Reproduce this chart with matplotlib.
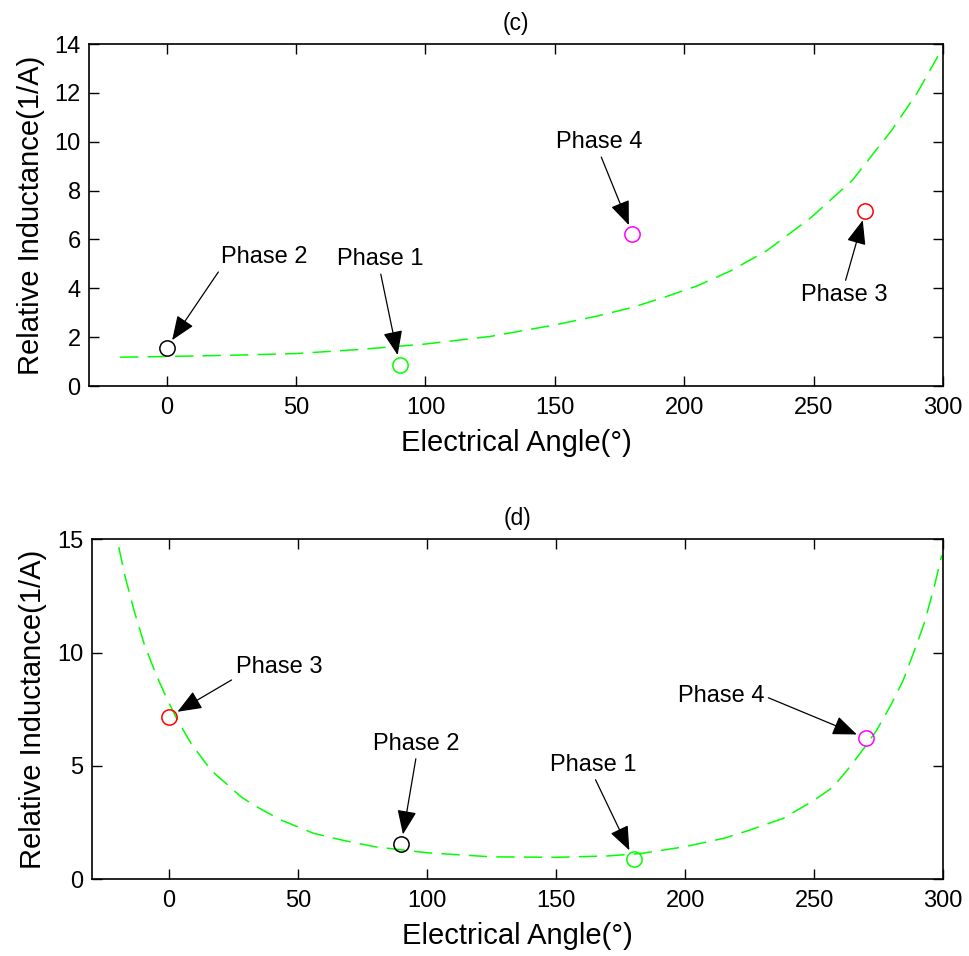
import numpy as np
import matplotlib
matplotlib.use("Agg")
import matplotlib.pyplot as plt

plt.rcParams['font.family'] = ['Liberation Sans', 'DejaVu Sans']

# phase markers: same inductance values, shifted angle between (c) and (d)
phases = ['Phase 1', 'Phase 2', 'Phase 3', 'Phase 4']
phase_colors = ['#00ff00', 'black', 'red', 'magenta']
phase_values = [0.88, 1.55, 7.17, 6.22]
angles_c = [90, 0, 270, 180]
angles_d = [180, 90, 0, 270]

# fitted curves
curve_c_x = [-18, 0, 25, 50, 75, 100, 125, 150, 167, 180, 193, 205, 218, 232, 249,
             265, 280, 290, 298]
curve_c_y = [1.18, 1.21, 1.26, 1.33, 1.50, 1.72, 2.03, 2.50, 2.88, 3.22, 3.66, 4.10,
             4.72, 5.55, 6.90, 8.43, 10.45, 12.0, 13.5]

curve_d_x = [-19.5, -17, -13.6, -9.7, -5.2, -0.6, 3.3, 8.5, 16.2, 27.9, 33, 43.5, 56,
             67, 80, 100, 125, 150, 170, 183, 200, 215, 225, 238, 250, 257.4, 263.8,
             269.7, 274.2, 280, 284.5, 288.4, 292.6, 296.5, 299.4]
curve_d_y = [14.66, 13.34, 11.87, 10.4, 9.07, 7.9, 7.01, 5.99, 4.81, 3.63, 3.25, 2.6,
             2.02, 1.72, 1.42, 1.16, 0.98, 0.96, 1.02, 1.13, 1.43, 1.8, 2.16, 2.68,
             3.48, 4.07, 4.95, 5.84, 6.57, 7.75, 8.78, 9.96, 11.28, 12.9, 14.29]

GREEN = '#00ff00'


def draw_panel(ax, title, cx, cy, angles, label_pos, ylim, yticks):
    ax.plot(cx, cy, color=GREEN, lw=1.1, dashes=(12, 6))
    for name, col, val, ang, (tx, ty, rel) in zip(phases, phase_colors, phase_values,
                                                  angles, label_pos):
        ax.plot(ang, val, 'o', mfc='none', mec=col, ms=11, mew=1.1, zorder=3)
        ax.annotate(name, xy=(ang, val), xytext=(tx, ty), ha='center', va='center',
                    fontsize=17,
                    arrowprops=dict(arrowstyle='-|>,head_length=0.75,head_width=0.3',
                                    color='black', lw=0.9, relpos=rel,
                                    shrinkA=1, shrinkB=7, mutation_scale=20))
    ax.set_xlim(-30, 300)
    ax.set_ylim(*ylim)
    ax.set_xticks(np.arange(0, 301, 50))
    ax.set_yticks(yticks)
    ax.tick_params(direction='in', length=7, width=1, top=True, right=True,
                   labelsize=17)
    ax.tick_params(axis='x', pad=8)
    ax.tick_params(axis='y', pad=6)
    for s in ax.spines.values():
        s.set_linewidth(1.2)
    ax.set_xlabel('Electrical Angle(°)', fontsize=21, labelpad=7)
    ax.set_ylabel('Relative Inductance(1/A)', fontsize=21, labelpad=7)
    ax.set_title(title, fontsize=16.5, pad=10)


fig = plt.figure(figsize=(9.7, 9.56), dpi=100)
ax1 = fig.add_axes([0.0918, 0.5962, 0.8804, 0.3577])
ax2 = fig.add_axes([0.0945, 0.0805, 0.8779, 0.3553])

# (text x, text y, arrow start on text box)
labels_c = [(82.4, 5.2, (0.5, 0)), (37.7, 5.28, (0, 0)),
            (261.9, 3.71, (0.5, 1)), (167.3, 9.99, (0.5, 0))]
labels_d = [(164.5, 5.05, (0.5, 0)), (95.9, 5.98, (0.5, 0)),
            (42.5, 9.38, (0, 0)), (213.9, 8.08, (1, 0.5))]

draw_panel(ax1, '(c)', curve_c_x, curve_c_y, angles_c, labels_c, (0, 14),
           np.arange(0, 15, 2))
draw_panel(ax2, '(d)', curve_d_x, curve_d_y, angles_d, labels_d, (0, 15),
           np.arange(0, 16, 5))

fig.savefig('out.png', dpi=100)
